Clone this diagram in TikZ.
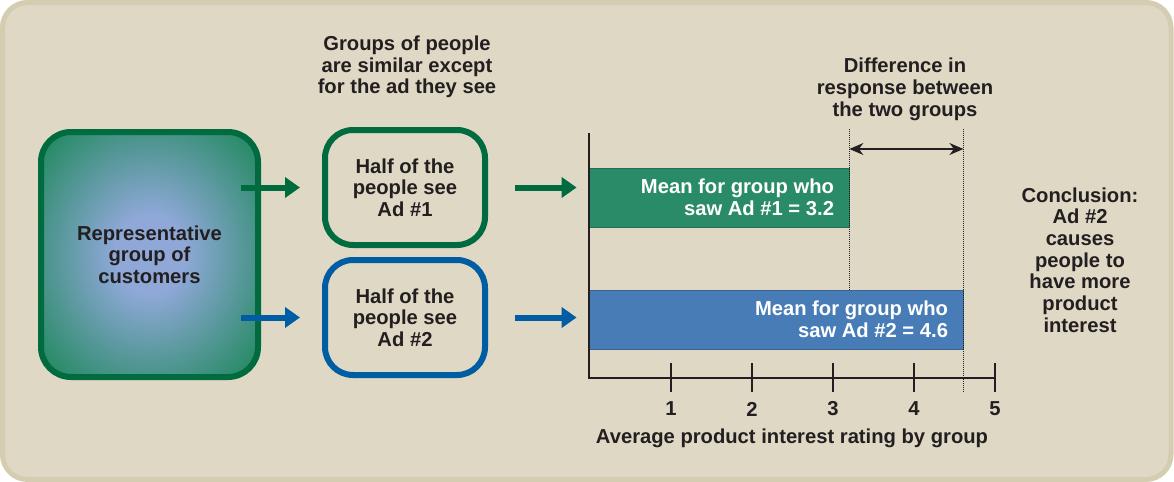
\documentclass[tikz,border=0pt]{standalone}
\usepackage{fontspec}
\setmainfont{Liberation Sans}
\usetikzlibrary{arrows.meta}
\definecolor{panel}{RGB}{222,216,197}
\definecolor{panelrim}{RGB}{212,205,178}
\definecolor{adgreen}{RGB}{0,107,63}
\definecolor{adblue}{RGB}{0,93,164}
\definecolor{bargreen}{RGB}{42,139,104}
\definecolor{barblue}{RGB}{72,124,182}
\definecolor{glow}{RGB}{143,168,216}
\definecolor{ink}{RGB}{35,31,32}
\pgfdeclareradialshading{crowdglow}{\pgfpoint{0bp}{0bp}}
  {color(0bp)=(glow); color(8bp)=(glow); color(32bp)=(bargreen);
   color(50bp)=(bargreen)}
\begin{document}
\begin{tikzpicture}[x = .5pt, y = -.5pt,
  every node/.style = {font = \fontsize{10.1}{10.85}\selectfont\bfseries,
                       text = ink, align = center},
  adbox/.style = {draw = #1, line width = 3pt, rounded corners = 14pt,
                  minimum width = 80pt, minimum height = 57.5pt, inner sep = 0pt},
  feed/.style = {draw = #1, line width = 3pt,
                 -{Triangle[length = 7.5pt, width = 10pt]}},
  bar/.style = {fill = #1, draw = #1!80!black, line width = .4pt,
                minimum height = 29.5pt, inner sep = 0pt},
  bartext/.style = {text = white, align = right, anchor = east, inner sep = 0pt},
  guide/.style = {ink, line width = .5pt, dash pattern = on .5pt off .5pt}]
  \useasboundingbox (0,0) rectangle (1174,482);
  \draw [fill = panel, draw = panelrim, line width = 2.5pt, rounded corners = 12.5pt]
        (2.5,2.5) rectangle (1171,479.5);
  % groups
  \node (grp) [draw = adgreen, line width = 3pt, rounded corners = 15pt,
               shading = crowdglow,
               minimum width = 108.5pt, minimum height = 122.5pt]
        at (149.5,254.5) {Representative\\group of\\customers};
  \node (ad1) [adbox = adgreen] at (405,187.5) {Half of the\\people see\\Ad \#1};
  \node (ad2) [adbox = adblue] at (405,317.5) {Half of the\\people see\\Ad \#2};
  \node (groups) at (407,67) {Groups of people\\are similar except\\for the ad they see};
  % bars
  \node (bar1) [bar = bargreen, minimum width = 130pt] at (719,197.5) {};
  \node (bar2) [bar = barblue, minimum width = 187pt] at (776,319.5) {};
  \node [bartext] at ([xshift = -7.5pt] bar1.east) {Mean for group who\\saw Ad \#1 = 3.2};
  \node [bartext] at ([xshift = -7.5pt] bar2.east) {Mean for group who\\saw Ad \#2 = 4.6};
  % arrows
  \coordinate (g1) at (grp.east |- ad1.west);
  \coordinate (g2) at (grp.east |- ad2.west);
  \coordinate (b1) at (bar1.west |- ad1.east);
  \coordinate (b2) at (bar2.west |- ad2.east);
  \draw [feed = adgreen] ([xshift = -10pt] g1) -- ([xshift = -11pt] ad1.west);
  \draw [feed = adblue] ([xshift = -10pt] g2) -- ([xshift = -11pt] ad2.west);
  \draw [feed = adgreen] ([xshift = 13.5pt] ad1.east) -- ([xshift = -6pt] b1);
  \draw [feed = adblue] ([xshift = 13.5pt] ad2.east) -- ([xshift = -6pt] b2);
  % axis
  \draw [ink, line width = .8pt] (589,133) |- (995,378);
  \foreach \v in {1,...,5}
    {
      \draw [ink, line width = .8pt] ({590+81*\v},363) -- ({590+81*\v},392);
      \node (tick\v) at ({590+81*\v},409) {\v};
    }
  \node (axis) at (792,438) {Average product interest rating by group};
  % difference
  \coordinate (top) at (0,129);
  \coordinate (low) at (0,392);
  \coordinate (diffy) at (0,149);
  \draw [guide] (bar1.east |- top) -- (bar1.east |- bar2.north);
  \draw [guide] (bar2.east |- top) -- (bar2.east |- low);
  \draw [ink, line width = .7pt,
         {Stealth[length = 7pt, width = 6pt]}-{Stealth[length = 7pt, width = 6pt]}]
        (bar1.east |- diffy) -- (bar2.east |- diffy);
  \node (diff) at (905,89.5) {Difference in\\response between\\the two groups};
  \node (concl) at (1080,260)
        {Conclusion:\\Ad \#2\\causes\\people to\\have more\\product\\interest};
\end{tikzpicture}
\end{document}
